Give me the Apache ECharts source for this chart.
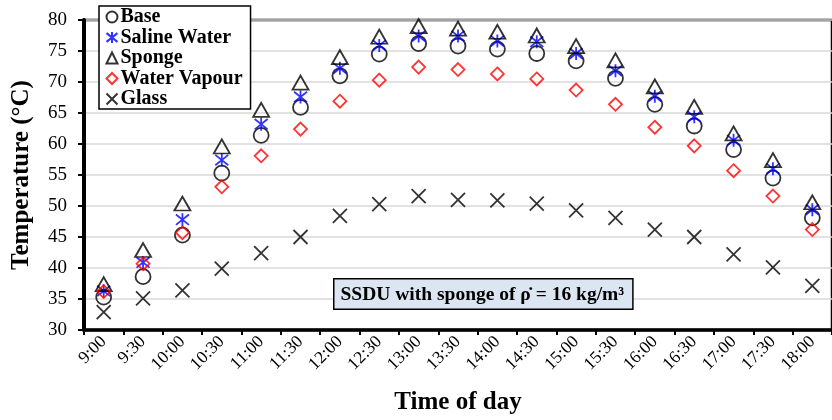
<!DOCTYPE html>
<html>
<head>
<meta charset="utf-8">
<script src="https://cdn.jsdelivr.net/npm/echarts@6/dist/echarts.min.js"></script>
<style>
  html, body { margin: 0; padding: 0; background: #fff; }
  #chart { width: 832px; height: 420px; }
</style>
</head>
<body>
<div id="chart"></div>
<script>
// time of day categories
const times = ['9:00', '9:30', '10:00', '10:30', '11:00', '11:30', '12:00', '12:30', '13:00', '13:30',
  '14:00', '14:30', '15:00', '15:30', '16:00', '16:30', '17:00', '17:30', '18:00'];

// temperatures (°C)
const base = [35.3, 38.6, 45.3, 55.3, 61.4, 65.9, 71.0, 74.5, 76.2, 75.8, 75.3, 74.6, 73.4, 70.6, 66.4, 62.9, 59.1, 54.5, 48.1];
const saline = [36.3, 40.9, 47.8, 57.4, 63.2, 67.6, 72.2, 75.9, 77.4, 77.4, 76.6, 76.5, 74.6, 71.8, 67.7, 64.4, 60.6, 56.0, 49.4];
const sponge = [37.4, 42.9, 50.4, 59.6, 65.5, 69.9, 74.0, 77.3, 79.0, 78.6, 78.1, 77.5, 75.8, 73.5, 69.3, 66.0, 61.7, 57.4, 50.6];
const vapour = [36.2, 40.7, 45.7, 53.1, 58.1, 62.4, 66.9, 70.3, 72.4, 72.0, 71.3, 70.5, 68.7, 66.4, 62.7, 59.7, 55.7, 51.6, 46.2];
const glass = [32.9, 35.1, 36.4, 39.9, 42.4, 45.0, 48.4, 50.3, 51.6, 51.0, 50.9, 50.4, 49.3, 48.1, 46.2, 45.0, 42.2, 40.1, 37.1];

const serif = '"Liberation Serif", "DejaVu Serif", serif';
const crossPath = 'path://M0,0L10,10M10,0L0,10';
const starPath = 'path://M0,1L10,9M10,1L0,9M5,0L5,10';

const chart = echarts.init(document.getElementById('chart'));

function scatter(name, data, symbol, size, color) {
  return {
    name,
    type: 'scatter',
    data,
    symbol,
    symbolSize: size,
    itemStyle: { color: 'none', borderColor: color, borderWidth: 1.8 },
    emphasis: { disabled: true },
    z: 3
  };
}

chart.setOption({
  animation: false,
  textStyle: { fontFamily: serif },
  grid: {
    left: 84, top: 20, right: -10, bottom: 89,
    show: true, borderColor: '#000', borderWidth: 2.5
  },
  legend: {
    orient: 'vertical',
    left: 99, top: 6,
    padding: [1, 8, 0, 5],
    itemGap: 0.5,
    itemWidth: 11, itemHeight: 11,
    backgroundColor: '#fff',
    borderColor: '#000', borderWidth: 1.5,
    textStyle: { fontFamily: serif, fontWeight: 'bold', fontSize: 20, color: '#000', padding: [0, 0, 0, -2] },
    data: ['Base', 'Saline Water', 'Sponge', 'Water Vapour', 'Glass']
  },
  xAxis: {
    type: 'category',
    data: times,
    boundaryGap: true,
    name: 'Time of day',
    nameLocation: 'middle',
    nameGap: 60,
    nameTextStyle: { fontFamily: serif, fontWeight: 'bold', fontSize: 25, color: '#000' },
    axisLine: { lineStyle: { color: '#000', width: 3.5 } },
    axisTick: { show: true, length: 5, lineStyle: { color: '#000', width: 2 } },
    axisLabel: { rotate: 45, fontSize: 17.5, color: '#000', margin: 9, interval: 0 },
    splitLine: { show: false }
  },
  yAxis: {
    type: 'value',
    min: 30, max: 80, interval: 5,
    name: 'Temperature (°C)',
    nameLocation: 'middle',
    nameGap: 50,
    nameTextStyle: { fontFamily: serif, fontWeight: 'bold', fontSize: 25, color: '#000' },
    axisLine: { show: true, lineStyle: { color: '#000', width: 4 } },
    axisTick: { show: true, length: 6, lineStyle: { color: '#000', width: 2 } },
    axisLabel: { fontSize: 19, color: '#000', margin: 17 },
    splitLine: { lineStyle: { color: '#d9d9d9', width: 1.5 } }
  },
  graphic: [{
    type: 'text',
    left: 333, top: 278,
    z: 10,
    style: {
      text: 'SSDU with sponge of ρ̇ = 16 kg/m³',
      font: 'bold 19.5px ' + serif,
      fill: '#000',
      backgroundColor: '#dce6f2',
      borderColor: '#000',
      borderWidth: 1.5,
      padding: [5, 8, 4, 6]
    }
  }],
  series: [
    scatter('Base', base, 'circle', 15, '#000'),
    scatter('Saline Water', saline, starPath, 13, '#0000ff'),
    scatter('Sponge', sponge, 'triangle', [16, 14], '#000'),
    scatter('Water Vapour', vapour, 'diamond', 13, '#ff0000'),
    scatter('Glass', glass, crossPath, 14, '#000')
  ]
});
</script>
</body>
</html>
